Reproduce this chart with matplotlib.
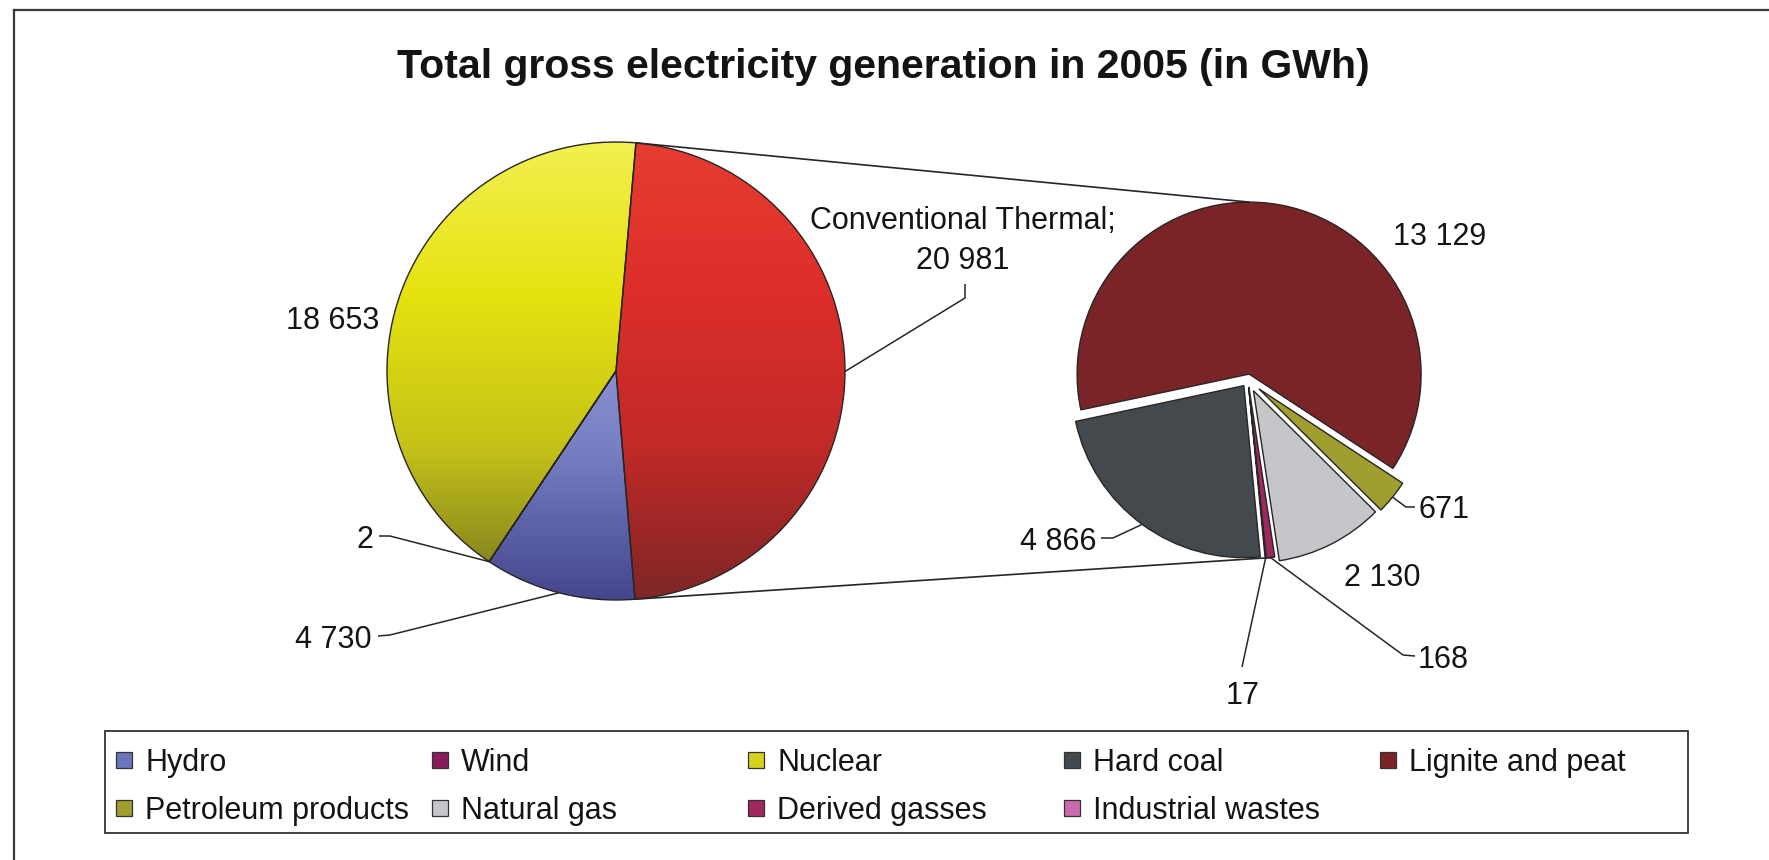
import numpy as np
import matplotlib
matplotlib.use("Agg")
import matplotlib.pyplot as plt
from matplotlib.patches import Rectangle
from matplotlib.colors import LinearSegmentedColormap

# ---------------------------------------------------------------- data (GWh)
main_labels = ["Conventional Thermal", "Hydro", "Wind", "Nuclear"]
hydro_value = 4730
wind_value = 2
nuclear_value = 18653

thermal_labels = ["Lignite and peat", "Petroleum products", "Natural gas",
                  "Derived gasses", "Industrial wastes", "Hard coal"]
thermal_values = [13129, 671, 2130, 168, 17, 4866]

thermal_total = sum(thermal_values)
main_values = [thermal_total, hydro_value, wind_value, nuclear_value]

legend_labels = ["Hydro", "Wind", "Nuclear", "Hard coal", "Lignite and peat",
                 "Petroleum products", "Natural gas", "Derived gasses",
                 "Industrial wastes"]

title = "Total gross electricity generation in 2005 (in GWh)"

# ---------------------------------------------------------------- styling
colors = {
    "Hydro": "#6c74bc",
    "Wind": "#8a1c5c",
    "Nuclear": "#d6d21c",
    "Hard coal": "#44494d",
    "Lignite and peat": "#7b2427",
    "Petroleum products": "#a09e2e",
    "Natural gas": "#c4c6c9",
    "Derived gasses": "#a0285f",
    "Industrial wastes": "#cc6aae",
    "Conventional Thermal": "#d82c28",
}
# vertical gradients (top -> bottom) used on the main pie
gradients = {
    "Conventional Thermal": ["#e63c32", "#dc2e2a", "#c02a28", "#7e2626"],
    "Hydro": ["#c0c6f2", "#9aa0dc", "#7880c4", "#44468c"],
    "Wind": ["#a02a70", "#8a1c5c"],
    "Nuclear": ["#f2f050", "#e6e210", "#c4c218", "#767420"],
}

W, H = 1769, 860
EDGE = "#262626"
TXT = "#141414"
FS = 22


def Y(y):
    """Convert a top-down pixel row into the axes' bottom-up y value."""
    return H - y


plt.rcParams["font.family"] = ["Liberation Sans", "DejaVu Sans"]
fig = plt.figure(figsize=(W / 100, H / 100), dpi=100)
ax = fig.add_axes([0, 0, 1, 1])

# ---------------------------------------------------------------- main pie
L_C = (616, Y(371))
L_R = 229
wl, _ = ax.pie(main_values, center=L_C, radius=L_R, startangle=85,
               counterclock=False, frame=True,
               colors=[colors[k] for k in main_labels],
               wedgeprops=dict(edgecolor=EDGE, linewidth=1.0))

for w, name in zip(wl, main_labels):
    cmap = LinearSegmentedColormap.from_list(name, gradients[name])
    grad = cmap(np.linspace(0, 1, 256))[:, None, :]
    im = ax.imshow(grad, extent=(L_C[0] - L_R, L_C[0] + L_R,
                                 L_C[1] - L_R, L_C[1] + L_R),
                   origin="upper", aspect="auto", zorder=2,
                   interpolation="bilinear")
    im.set_clip_path(w)
    w.set_facecolor("none")
    w.set_zorder(3)

# ---------------------------------------------------------------- thermal pie
R_C = (1248, Y(380))
R_R = 172
explode_px = [6, 14, 12, 7, 7, 7]          # slice offsets, in pixels
wr, _ = ax.pie(thermal_values, center=R_C, radius=R_R, startangle=90 - 258,
               counterclock=False, explode=explode_px, frame=True,
               colors=[colors[k] for k in thermal_labels],
               wedgeprops=dict(edgecolor=EDGE, linewidth=1.0))
for w in wr:
    w.set_zorder(3)


def rim(w, ang=None):
    a = (w.theta1 + w.theta2) / 2 if ang is None else ang
    a = np.deg2rad(a)
    return (w.center[0] + w.r * np.cos(a), w.center[1] + w.r * np.sin(a))


# connector lines between the two pies
thermal_w = wl[0]
lig_w = wr[0]
der_w = wr[3]
ax.plot([rim(thermal_w, thermal_w.theta2)[0], rim(lig_w, 90)[0]],
        [rim(thermal_w, thermal_w.theta2)[1], rim(lig_w, 90)[1]],
        color=EDGE, lw=1.2, zorder=4)
ax.plot([rim(thermal_w, thermal_w.theta1)[0], rim(der_w)[0]],
        [rim(thermal_w, thermal_w.theta1)[1], rim(der_w)[1]],
        color=EDGE, lw=1.2, zorder=4)


def fmt(v):
    return f"{v:,}".replace(",", " ")


def label(x, y, s, ha="center", size=FS, weight="normal"):
    # y is the vertical centre of the digits/capitals
    ax.text(x, Y(y + 0.36 * size * 100 / 72), s, ha=ha, va="baseline",
            fontsize=size, color=TXT, fontweight=weight, zorder=5)


def leader(w, pts, ang=None):
    p0 = rim(w, ang)
    xs = [p0[0]] + [p[0] for p in pts]
    ys = [p0[1]] + [Y(p[1]) for p in pts]
    ax.plot(xs, ys, color=EDGE, lw=1.1, zorder=4, solid_capstyle="butt")


# main pie labels
label(379, 318, fmt(nuclear_value), ha="right")
label(963, 218, "Conventional Thermal;")
label(963, 258, fmt(thermal_total))
leader(wl[0], [(965, 298), (965, 284)])
label(373, 537, fmt(wind_value), ha="right")
leader(wl[2], [(390, 536), (379, 536)])
label(372, 637, fmt(hydro_value), ha="right")
leader(wl[1], [(390, 635), (378, 636)])

# thermal pie labels
label(1440, 234, fmt(thermal_values[0]))
label(1418, 507, fmt(thermal_values[1]), ha="left")
leader(wr[1], [(1406, 507), (1415, 507)])
label(1382, 575, fmt(thermal_values[2]))
label(1418, 657, fmt(thermal_values[3]), ha="left")
leader(wr[3], [(1403, 655), (1415, 656)])
label(1243, 693, fmt(thermal_values[4]))
leader(wr[4], [(1242, 667)])
label(1097, 539, fmt(thermal_values[5]), ha="right")
leader(wr[5], [(1113, 538), (1101, 538)])

# ---------------------------------------------------------------- title
label(883, 63, title, size=29.5, weight="bold")

# ---------------------------------------------------------------- legend
ax.add_patch(Rectangle((105, Y(833)), 1583, 102, facecolor="white",
                       edgecolor="#333333", lw=1.3, zorder=4))
col_x = [116 + 316 * i for i in range(5)]
row_y = [760, 808]
for i, name in enumerate(legend_labels):
    x = col_x[i % 5]
    y = row_y[i // 5]
    ax.add_patch(Rectangle((x, Y(y + 8)), 16, 16, facecolor=colors[name],
                           edgecolor="#333333", lw=0.9, zorder=5))
    label(x + 29, y, name, ha="left")

# ---------------------------------------------------------------- frame
ax.plot([14, W], [Y(10), Y(10)], color="#3a3a3a", lw=1.6, zorder=6)
ax.plot([14, 14], [Y(10), 0], color="#3a3a3a", lw=1.6, zorder=6)

ax.set_xlim(0, W)
ax.set_ylim(0, H)
ax.set_aspect("auto")
ax.axis("off")
fig.savefig("out.png", dpi=100, facecolor="white")
